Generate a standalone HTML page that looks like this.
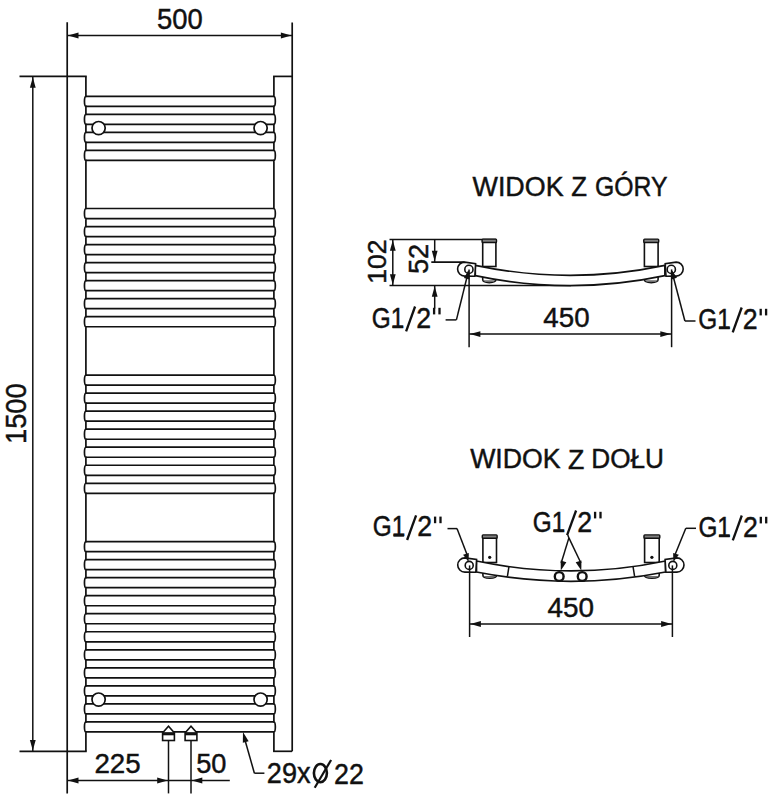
<!DOCTYPE html>
<html><head><meta charset="utf-8"><style>
html,body{margin:0;padding:0;background:#fff;}
svg{display:block;}
</style></head><body>
<svg width="774" height="800" viewBox="0 0 774 800">
<rect width="774" height="800" fill="#fff"/>
<g stroke="#111" fill="none" stroke-linecap="butt">
<line x1="67.20" y1="22.30" x2="67.20" y2="793.40" stroke-width="1.7"/>
<line x1="292.20" y1="22.50" x2="292.20" y2="751.30" stroke-width="1.7"/>
<line x1="19.50" y1="76.40" x2="86.75" y2="76.40" stroke-width="1.7"/>
<line x1="19.50" y1="751.30" x2="86.75" y2="751.30" stroke-width="1.7"/>
<line x1="273.05" y1="76.40" x2="292.20" y2="76.40" stroke-width="1.7"/>
<line x1="273.05" y1="751.30" x2="292.20" y2="751.30" stroke-width="1.7"/>
<line x1="67.20" y1="35.50" x2="292.20" y2="35.50" stroke-width="1.5"/>
<path d="M68.00,35.50 L78.50,32.60 L78.50,38.40 Z" fill="#111" stroke="none"/>
<path d="M291.40,35.50 L280.90,38.40 L280.90,32.60 Z" fill="#111" stroke="none"/>
<line x1="32.80" y1="76.40" x2="32.80" y2="751.30" stroke-width="1.5"/>
<path d="M32.80,77.20 L35.70,87.70 L29.90,87.70 Z" fill="#111" stroke="none"/>
<path d="M32.80,750.50 L29.90,740.00 L35.70,740.00 Z" fill="#111" stroke="none"/>
<path d="M85.9,76.4 L85.9,96.30 A1.5,5.03 0 0 0 85.9,106.35 L85.9,114.32 A1.5,5.03 0 0 0 85.9,124.37 L85.9,132.34 A1.5,5.03 0 0 0 85.9,142.39 L85.9,150.36 A1.5,5.03 0 0 0 85.9,160.41 L85.9,208.50 A1.5,5.03 0 0 0 85.9,218.55 L85.9,226.53 A1.5,5.03 0 0 0 85.9,236.58 L85.9,244.56 A1.5,5.03 0 0 0 85.9,254.61 L85.9,262.59 A1.5,5.03 0 0 0 85.9,272.64 L85.9,280.62 A1.5,5.03 0 0 0 85.9,290.67 L85.9,298.65 A1.5,5.03 0 0 0 85.9,308.70 L85.9,316.68 A1.5,5.03 0 0 0 85.9,326.73 L85.9,375.10 A1.5,5.03 0 0 0 85.9,385.15 L85.9,393.13 A1.5,5.03 0 0 0 85.9,403.18 L85.9,411.16 A1.5,5.03 0 0 0 85.9,421.21 L85.9,429.19 A1.5,5.03 0 0 0 85.9,439.24 L85.9,447.22 A1.5,5.03 0 0 0 85.9,457.27 L85.9,465.25 A1.5,5.03 0 0 0 85.9,475.30 L85.9,483.28 A1.5,5.03 0 0 0 85.9,493.33 L85.9,541.60 A1.5,5.03 0 0 0 85.9,551.65 L85.9,559.63 A1.5,5.03 0 0 0 85.9,569.68 L85.9,577.66 A1.5,5.03 0 0 0 85.9,587.71 L85.9,595.69 A1.5,5.03 0 0 0 85.9,605.74 L85.9,613.72 A1.5,5.03 0 0 0 85.9,623.77 L85.9,631.75 A1.5,5.03 0 0 0 85.9,641.80 L85.9,649.78 A1.5,5.03 0 0 0 85.9,659.83 L85.9,667.81 A1.5,5.03 0 0 0 85.9,677.86 L85.9,685.84 A1.5,5.03 0 0 0 85.9,695.89 L85.9,703.87 A1.5,5.03 0 0 0 85.9,713.92 L85.9,721.90 A1.5,5.03 0 0 0 85.9,731.95 L85.9,751.3" fill="none" stroke-width="1.7" />
<path d="M273.9,76.4 L273.9,96.30 A1.5,5.03 0 0 1 273.9,106.35 L273.9,114.32 A1.5,5.03 0 0 1 273.9,124.37 L273.9,132.34 A1.5,5.03 0 0 1 273.9,142.39 L273.9,150.36 A1.5,5.03 0 0 1 273.9,160.41 L273.9,208.50 A1.5,5.03 0 0 1 273.9,218.55 L273.9,226.53 A1.5,5.03 0 0 1 273.9,236.58 L273.9,244.56 A1.5,5.03 0 0 1 273.9,254.61 L273.9,262.59 A1.5,5.03 0 0 1 273.9,272.64 L273.9,280.62 A1.5,5.03 0 0 1 273.9,290.67 L273.9,298.65 A1.5,5.03 0 0 1 273.9,308.70 L273.9,316.68 A1.5,5.03 0 0 1 273.9,326.73 L273.9,375.10 A1.5,5.03 0 0 1 273.9,385.15 L273.9,393.13 A1.5,5.03 0 0 1 273.9,403.18 L273.9,411.16 A1.5,5.03 0 0 1 273.9,421.21 L273.9,429.19 A1.5,5.03 0 0 1 273.9,439.24 L273.9,447.22 A1.5,5.03 0 0 1 273.9,457.27 L273.9,465.25 A1.5,5.03 0 0 1 273.9,475.30 L273.9,483.28 A1.5,5.03 0 0 1 273.9,493.33 L273.9,541.60 A1.5,5.03 0 0 1 273.9,551.65 L273.9,559.63 A1.5,5.03 0 0 1 273.9,569.68 L273.9,577.66 A1.5,5.03 0 0 1 273.9,587.71 L273.9,595.69 A1.5,5.03 0 0 1 273.9,605.74 L273.9,613.72 A1.5,5.03 0 0 1 273.9,623.77 L273.9,631.75 A1.5,5.03 0 0 1 273.9,641.80 L273.9,649.78 A1.5,5.03 0 0 1 273.9,659.83 L273.9,667.81 A1.5,5.03 0 0 1 273.9,677.86 L273.9,685.84 A1.5,5.03 0 0 1 273.9,695.89 L273.9,703.87 A1.5,5.03 0 0 1 273.9,713.92 L273.9,721.90 A1.5,5.03 0 0 1 273.9,731.95 L273.9,751.3" fill="none" stroke-width="1.7" />
<line x1="85.90" y1="96.30" x2="273.90" y2="96.30" stroke-width="1.7"/>
<line x1="85.90" y1="106.35" x2="273.90" y2="106.35" stroke-width="1.7"/>
<line x1="85.90" y1="114.32" x2="273.90" y2="114.32" stroke-width="1.7"/>
<line x1="85.90" y1="124.37" x2="273.90" y2="124.37" stroke-width="1.7"/>
<line x1="85.90" y1="132.34" x2="273.90" y2="132.34" stroke-width="1.7"/>
<line x1="85.90" y1="142.39" x2="273.90" y2="142.39" stroke-width="1.7"/>
<line x1="85.90" y1="150.36" x2="273.90" y2="150.36" stroke-width="1.7"/>
<line x1="85.90" y1="160.41" x2="273.90" y2="160.41" stroke-width="1.7"/>
<line x1="85.90" y1="208.50" x2="273.90" y2="208.50" stroke-width="1.7"/>
<line x1="85.90" y1="218.55" x2="273.90" y2="218.55" stroke-width="1.7"/>
<line x1="85.90" y1="226.53" x2="273.90" y2="226.53" stroke-width="1.7"/>
<line x1="85.90" y1="236.58" x2="273.90" y2="236.58" stroke-width="1.7"/>
<line x1="85.90" y1="244.56" x2="273.90" y2="244.56" stroke-width="1.7"/>
<line x1="85.90" y1="254.61" x2="273.90" y2="254.61" stroke-width="1.7"/>
<line x1="85.90" y1="262.59" x2="273.90" y2="262.59" stroke-width="1.7"/>
<line x1="85.90" y1="272.64" x2="273.90" y2="272.64" stroke-width="1.7"/>
<line x1="85.90" y1="280.62" x2="273.90" y2="280.62" stroke-width="1.7"/>
<line x1="85.90" y1="290.67" x2="273.90" y2="290.67" stroke-width="1.7"/>
<line x1="85.90" y1="298.65" x2="273.90" y2="298.65" stroke-width="1.7"/>
<line x1="85.90" y1="308.70" x2="273.90" y2="308.70" stroke-width="1.7"/>
<line x1="85.90" y1="316.68" x2="273.90" y2="316.68" stroke-width="1.7"/>
<line x1="85.90" y1="326.73" x2="273.90" y2="326.73" stroke-width="1.7"/>
<line x1="85.90" y1="375.10" x2="273.90" y2="375.10" stroke-width="1.7"/>
<line x1="85.90" y1="385.15" x2="273.90" y2="385.15" stroke-width="1.7"/>
<line x1="85.90" y1="393.13" x2="273.90" y2="393.13" stroke-width="1.7"/>
<line x1="85.90" y1="403.18" x2="273.90" y2="403.18" stroke-width="1.7"/>
<line x1="85.90" y1="411.16" x2="273.90" y2="411.16" stroke-width="1.7"/>
<line x1="85.90" y1="421.21" x2="273.90" y2="421.21" stroke-width="1.7"/>
<line x1="85.90" y1="429.19" x2="273.90" y2="429.19" stroke-width="1.7"/>
<line x1="85.90" y1="439.24" x2="273.90" y2="439.24" stroke-width="1.7"/>
<line x1="85.90" y1="447.22" x2="273.90" y2="447.22" stroke-width="1.7"/>
<line x1="85.90" y1="457.27" x2="273.90" y2="457.27" stroke-width="1.7"/>
<line x1="85.90" y1="465.25" x2="273.90" y2="465.25" stroke-width="1.7"/>
<line x1="85.90" y1="475.30" x2="273.90" y2="475.30" stroke-width="1.7"/>
<line x1="85.90" y1="483.28" x2="273.90" y2="483.28" stroke-width="1.7"/>
<line x1="85.90" y1="493.33" x2="273.90" y2="493.33" stroke-width="1.7"/>
<line x1="85.90" y1="541.60" x2="273.90" y2="541.60" stroke-width="1.7"/>
<line x1="85.90" y1="551.65" x2="273.90" y2="551.65" stroke-width="1.7"/>
<line x1="85.90" y1="559.63" x2="273.90" y2="559.63" stroke-width="1.7"/>
<line x1="85.90" y1="569.68" x2="273.90" y2="569.68" stroke-width="1.7"/>
<line x1="85.90" y1="577.66" x2="273.90" y2="577.66" stroke-width="1.7"/>
<line x1="85.90" y1="587.71" x2="273.90" y2="587.71" stroke-width="1.7"/>
<line x1="85.90" y1="595.69" x2="273.90" y2="595.69" stroke-width="1.7"/>
<line x1="85.90" y1="605.74" x2="273.90" y2="605.74" stroke-width="1.7"/>
<line x1="85.90" y1="613.72" x2="273.90" y2="613.72" stroke-width="1.7"/>
<line x1="85.90" y1="623.77" x2="273.90" y2="623.77" stroke-width="1.7"/>
<line x1="85.90" y1="631.75" x2="273.90" y2="631.75" stroke-width="1.7"/>
<line x1="85.90" y1="641.80" x2="273.90" y2="641.80" stroke-width="1.7"/>
<line x1="85.90" y1="649.78" x2="273.90" y2="649.78" stroke-width="1.7"/>
<line x1="85.90" y1="659.83" x2="273.90" y2="659.83" stroke-width="1.7"/>
<line x1="85.90" y1="667.81" x2="273.90" y2="667.81" stroke-width="1.7"/>
<line x1="85.90" y1="677.86" x2="273.90" y2="677.86" stroke-width="1.7"/>
<line x1="85.90" y1="685.84" x2="273.90" y2="685.84" stroke-width="1.7"/>
<line x1="85.90" y1="695.89" x2="273.90" y2="695.89" stroke-width="1.7"/>
<line x1="85.90" y1="703.87" x2="273.90" y2="703.87" stroke-width="1.7"/>
<line x1="85.90" y1="713.92" x2="273.90" y2="713.92" stroke-width="1.7"/>
<line x1="85.90" y1="721.90" x2="273.90" y2="721.90" stroke-width="1.7"/>
<line x1="85.90" y1="731.95" x2="273.90" y2="731.95" stroke-width="1.7"/>
<circle cx="98.60" cy="128.10" r="6.60" fill="#fff" stroke-width="1.7"/>
<circle cx="260.60" cy="128.10" r="6.60" fill="#fff" stroke-width="1.7"/>
<circle cx="98.60" cy="699.60" r="6.60" fill="#fff" stroke-width="1.7"/>
<circle cx="260.60" cy="699.60" r="6.60" fill="#fff" stroke-width="1.7"/>
<line x1="168.50" y1="740.50" x2="168.50" y2="793.40" stroke-width="1.5"/>
<path d="M162.70,732.8 L168.50,726.2 L174.30,732.8" fill="#fff" stroke-width="1.6"/>
<rect x="162.60" y="733" width="11.8" height="7.5" fill="#fff" stroke-width="1.6"/>
<line x1="162.60" y1="734.20" x2="174.40" y2="734.20" stroke-width="2.2"/>
<line x1="191.00" y1="740.50" x2="191.00" y2="793.40" stroke-width="1.5"/>
<path d="M185.20,732.8 L191.00,726.2 L196.80,732.8" fill="#fff" stroke-width="1.6"/>
<rect x="185.10" y="733" width="11.8" height="7.5" fill="#fff" stroke-width="1.6"/>
<line x1="185.10" y1="734.20" x2="196.90" y2="734.20" stroke-width="2.2"/>
<line x1="67.20" y1="780.50" x2="229.80" y2="780.50" stroke-width="1.5"/>
<path d="M68.00,780.50 L78.50,777.60 L78.50,783.40 Z" fill="#111" stroke="none"/>
<path d="M167.70,780.50 L157.20,783.40 L157.20,777.60 Z" fill="#111" stroke="none"/>
<path d="M191.80,780.50 L202.30,777.60 L202.30,783.40 Z" fill="#111" stroke="none"/>
<path d="M243.00,731.90 L248.63,741.26 L242.84,742.82 Z" fill="#111" stroke="none"/>
<line x1="243.90" y1="736.30" x2="254.40" y2="773.20" stroke-width="1.5"/>
<line x1="254.40" y1="773.20" x2="264.40" y2="773.20" stroke-width="1.5"/>
<text fill="#111" stroke="#111" font-family="Liberation Sans, sans-serif" transform="translate(157.10,29.41) scale(0.2742,0.2887)" font-size="100" stroke-width="1.56">500</text>
<text fill="#111" stroke="#111" font-family="Liberation Sans, sans-serif" transform="translate(25.96,444.09) rotate(-90) scale(0.2738,0.2908)" font-size="100" stroke-width="1.55">1500</text>
<text fill="#111" stroke="#111" font-family="Liberation Sans, sans-serif" transform="translate(94.41,773.22) scale(0.2772,0.2803)" font-size="100" stroke-width="1.61">225</text>
<text fill="#111" stroke="#111" font-family="Liberation Sans, sans-serif" transform="translate(196.21,773.02) scale(0.2718,0.2817)" font-size="100" stroke-width="1.60">50</text>
<text fill="#111" stroke="#111" font-family="Liberation Sans, sans-serif" transform="translate(266.85,783.41) scale(0.2710,0.2944)" font-size="100" stroke-width="1.53">29x</text>
<text fill="#111" stroke="#111" font-family="Liberation Sans, sans-serif" transform="translate(334.06,783.50) scale(0.2683,0.2957)" font-size="100" stroke-width="1.52">22</text>
<ellipse cx="320.4" cy="773.1" rx="6.5" ry="9.1" fill="none" stroke-width="2.6"/>
<line x1="314.70" y1="787.70" x2="331.10" y2="760.00" stroke-width="2.2"/>
<text fill="#111" stroke="#111" font-family="Liberation Sans, sans-serif" transform="translate(472.53,195.53) scale(0.2688,0.2704)" font-size="100" stroke-width="1.66">WIDOK</text>
<text fill="#111" stroke="#111" font-family="Liberation Sans, sans-serif" transform="translate(571.33,195.80) scale(0.2582,0.2783)" font-size="100" stroke-width="1.62">Z</text>
<text fill="#111" stroke="#111" font-family="Liberation Sans, sans-serif" transform="translate(594.96,195.53) scale(0.2481,0.2704)" font-size="100" stroke-width="1.66">GÓRY</text>
<line x1="389.50" y1="239.50" x2="496.30" y2="239.50" stroke-width="1.7"/>
<line x1="389.50" y1="285.50" x2="571.00" y2="285.50" stroke-width="1.7"/>
<line x1="431.30" y1="262.10" x2="464.50" y2="262.10" stroke-width="1.7"/>
<line x1="392.80" y1="239.50" x2="392.80" y2="285.50" stroke-width="1.5"/>
<path d="M392.80,240.30 L395.70,250.80 L389.90,250.80 Z" fill="#111" stroke="none"/>
<path d="M392.80,284.70 L389.90,274.20 L395.70,274.20 Z" fill="#111" stroke="none"/>
<text fill="#111" stroke="#111" font-family="Liberation Sans, sans-serif" transform="translate(386.13,283.82) rotate(-90) scale(0.2656,0.2662)" font-size="100" stroke-width="1.69">102</text>
<line x1="434.70" y1="239.50" x2="434.70" y2="262.10" stroke-width="1.5"/>
<path d="M434.70,261.30 L431.80,250.80 L437.60,250.80 Z" fill="#111" stroke="none"/>
<line x1="434.70" y1="285.50" x2="434.70" y2="308.50" stroke-width="1.5"/>
<path d="M434.70,286.30 L437.60,296.80 L431.80,296.80 Z" fill="#111" stroke="none"/>
<text fill="#111" stroke="#111" font-family="Liberation Sans, sans-serif" transform="translate(427.72,274.09) rotate(-90) scale(0.2725,0.2803)" font-size="100" stroke-width="1.61">52</text>
<rect x="482.7" y="240.7" width="13.20" height="25.80" fill="#fff" stroke-width="1.6"/>
<rect x="482.10" y="239.10" width="14.40" height="3.4" rx="0.8" fill="#808080" stroke-width="1.4"/>
<path d="M482.7,275 L482.7,279.6 C482.7,283.6 495.9,283.6 495.9,279.6 L495.9,275" fill="#fff" stroke-width="1.6"/>
<path d="M483.20,280.3 L495.40,280.3 C494.90,282.8 483.70,282.8 483.20,280.3 Z" fill="#707070" stroke="none"/>
<rect x="644.4" y="240.7" width="13.70" height="25.80" fill="#fff" stroke-width="1.6"/>
<rect x="643.80" y="239.10" width="14.90" height="3.4" rx="0.8" fill="#808080" stroke-width="1.4"/>
<path d="M644.4,275 L644.4,279.6 C644.4,283.6 658.1,283.6 658.1,279.6 L658.1,275" fill="#fff" stroke-width="1.6"/>
<path d="M644.90,280.3 L657.60,280.3 C657.10,282.8 645.40,282.8 644.90,280.3 Z" fill="#707070" stroke="none"/>
<path d="M475.3,265.3 Q570.1,285.30 664.9,265.3 L664.9,275.6 Q570.1,295.60 475.3,275.6 Z" fill="#fff" stroke-width="1.7" />
<path d="M464.60,262.10 L475.60,263.70 L474.80,276.30 L464.60,276.10 A7.0,7.0 0 0 1 464.60,262.10 Z" fill="#fff" stroke-width="1.6" />
<path d="M676.20,262.10 L665.20,263.70 L666.00,276.30 L676.20,276.10 A7.0,7.0 0 0 0 676.20,262.10 Z" fill="#fff" stroke-width="1.6" />
<circle cx="468.90" cy="269.40" r="4.10" fill="#fff" stroke-width="1.6"/>
<circle cx="671.30" cy="269.40" r="4.10" fill="#fff" stroke-width="1.6"/>
<line x1="469.10" y1="269.40" x2="469.10" y2="347.20" stroke-width="1.5"/>
<line x1="671.60" y1="269.40" x2="671.60" y2="347.20" stroke-width="1.5"/>
<line x1="469.10" y1="334.10" x2="671.60" y2="334.10" stroke-width="1.5"/>
<path d="M469.90,334.10 L480.40,331.20 L480.40,337.00 Z" fill="#111" stroke="none"/>
<path d="M670.80,334.10 L660.30,337.00 L660.30,331.20 Z" fill="#111" stroke="none"/>
<text fill="#111" stroke="#111" font-family="Liberation Sans, sans-serif" transform="translate(543.35,327.22) scale(0.2770,0.2803)" font-size="100" stroke-width="1.61">450</text>
<line x1="445.60" y1="319.90" x2="456.40" y2="319.90" stroke-width="1.5"/>
<line x1="456.40" y1="319.90" x2="468.40" y2="271.50" stroke-width="1.5"/>
<path d="M468.80,270.00 L469.52,279.43 L463.88,278.07 Z" fill="#111" stroke="none"/>
<text fill="#111" stroke="#111" font-family="Liberation Sans, sans-serif" transform="translate(371.68,327.71) scale(0.2439,0.2901)" font-size="100" stroke-width="1.55">G1</text>
<text fill="#111" stroke="#111" font-family="Liberation Sans, sans-serif" transform="translate(416.26,327.80) scale(0.2674,0.2914)" font-size="100" stroke-width="1.54">2</text>
<line x1="406.10" y1="331.40" x2="415.10" y2="306.50" stroke-width="2.3"/>
<rect x="392.50" y="325.70" width="10.4" height="2.3" fill="#111" stroke="none"/>
<rect x="432.95" y="307.80" width="2.3" height="6.6" fill="#111" stroke="none"/>
<rect x="438.35" y="307.80" width="2.3" height="6.6" fill="#111" stroke="none"/>
<line x1="695.50" y1="321.00" x2="684.90" y2="321.00" stroke-width="1.5"/>
<line x1="684.90" y1="321.00" x2="671.90" y2="271.50" stroke-width="1.5"/>
<path d="M671.60,270.00 L676.96,277.79 L671.41,279.45 Z" fill="#111" stroke="none"/>
<text fill="#111" stroke="#111" font-family="Liberation Sans, sans-serif" transform="translate(698.28,328.71) scale(0.2439,0.2901)" font-size="100" stroke-width="1.55">G1</text>
<text fill="#111" stroke="#111" font-family="Liberation Sans, sans-serif" transform="translate(742.86,328.80) scale(0.2674,0.2914)" font-size="100" stroke-width="1.54">2</text>
<line x1="732.70" y1="332.40" x2="741.70" y2="307.50" stroke-width="2.3"/>
<rect x="719.10" y="326.70" width="10.4" height="2.3" fill="#111" stroke="none"/>
<rect x="759.55" y="308.80" width="2.3" height="6.6" fill="#111" stroke="none"/>
<rect x="764.95" y="308.80" width="2.3" height="6.6" fill="#111" stroke="none"/>
<text fill="#111" stroke="#111" font-family="Liberation Sans, sans-serif" transform="translate(470.13,468.33) scale(0.2673,0.2718)" font-size="100" stroke-width="1.66">WIDOK</text>
<text fill="#111" stroke="#111" font-family="Liberation Sans, sans-serif" transform="translate(568.00,468.60) scale(0.2673,0.2797)" font-size="100" stroke-width="1.61">Z</text>
<text fill="#111" stroke="#111" font-family="Liberation Sans, sans-serif" transform="translate(591.31,468.33) scale(0.2618,0.2718)" font-size="100" stroke-width="1.66">DOŁU</text>
<rect x="482.9" y="536.5" width="13.60" height="26.00" fill="#fff" stroke-width="1.6"/>
<rect x="482.30" y="534.90" width="14.80" height="3.4" rx="0.8" fill="#808080" stroke-width="1.4"/>
<circle cx="489.70" cy="557.30" r="1.60" fill="#111" stroke-width="0"/>
<path d="M482.9,571 L482.9,575.2 C482.9,579.2 496.5,579.2 496.5,575.2 L496.5,571" fill="#fff" stroke-width="1.6"/>
<path d="M483.40,575.9 L496.00,575.9 C495.50,578.4 483.90,578.4 483.40,575.9 Z" fill="#707070" stroke="none"/>
<rect x="644.6" y="536.5" width="14.60" height="26.00" fill="#fff" stroke-width="1.6"/>
<rect x="644.00" y="534.90" width="15.80" height="3.4" rx="0.8" fill="#808080" stroke-width="1.4"/>
<circle cx="651.90" cy="557.30" r="1.60" fill="#111" stroke-width="0"/>
<path d="M644.6,571 L644.6,575.2 C644.6,579.2 659.2,579.2 659.2,575.2 L659.2,571" fill="#fff" stroke-width="1.6"/>
<path d="M645.10,575.9 L658.70,575.9 C658.20,578.4 645.60,578.4 645.10,575.9 Z" fill="#707070" stroke="none"/>
<path d="M476.5,561.0 Q571.0,580.80 665.5,561.0 L665.5,572.0 Q571.0,590.60 476.5,572.0 Z" fill="#fff" stroke-width="1.7" />
<line x1="509.00" y1="566.30" x2="507.40" y2="576.40" stroke-width="1.5"/>
<line x1="633.00" y1="566.30" x2="634.60" y2="576.40" stroke-width="1.5"/>
<path d="M464.80,557.90 L476.60,559.50 L475.80,572.30 L464.80,572.10 A7.1,7.1 0 0 1 464.80,557.90 Z" fill="#fff" stroke-width="1.6" />
<path d="M676.90,557.90 L665.10,559.50 L665.90,572.30 L676.90,572.10 A7.1,7.1 0 0 0 676.90,557.90 Z" fill="#fff" stroke-width="1.6" />
<circle cx="469.20" cy="565.40" r="4.00" fill="#fff" stroke-width="1.6"/>
<circle cx="672.80" cy="565.40" r="4.00" fill="#fff" stroke-width="1.6"/>
<circle cx="559.20" cy="576.50" r="4.40" fill="#fff" stroke-width="2.4"/>
<circle cx="582.20" cy="576.50" r="4.40" fill="#fff" stroke-width="2.4"/>
<line x1="469.60" y1="565.40" x2="469.60" y2="637.00" stroke-width="1.5"/>
<line x1="672.40" y1="565.40" x2="672.40" y2="637.00" stroke-width="1.5"/>
<line x1="469.60" y1="624.00" x2="672.40" y2="624.00" stroke-width="1.5"/>
<path d="M470.40,624.00 L480.90,621.10 L480.90,626.90 Z" fill="#111" stroke="none"/>
<path d="M671.60,624.00 L661.10,626.90 L661.10,621.10 Z" fill="#111" stroke="none"/>
<text fill="#111" stroke="#111" font-family="Liberation Sans, sans-serif" transform="translate(547.54,617.22) scale(0.2789,0.2803)" font-size="100" stroke-width="1.61">450</text>
<text fill="#111" stroke="#111" font-family="Liberation Sans, sans-serif" transform="translate(372.68,536.31) scale(0.2439,0.2873)" font-size="100" stroke-width="1.57">G1</text>
<text fill="#111" stroke="#111" font-family="Liberation Sans, sans-serif" transform="translate(417.26,536.40) scale(0.2674,0.2886)" font-size="100" stroke-width="1.56">2</text>
<line x1="407.10" y1="540.00" x2="416.10" y2="515.30" stroke-width="2.3"/>
<rect x="393.50" y="534.30" width="10.4" height="2.3" fill="#111" stroke="none"/>
<rect x="433.95" y="516.60" width="2.3" height="6.6" fill="#111" stroke="none"/>
<rect x="439.35" y="516.60" width="2.3" height="6.6" fill="#111" stroke="none"/>
<line x1="447.50" y1="528.60" x2="457.00" y2="528.60" stroke-width="1.5"/>
<line x1="457.00" y1="528.60" x2="467.60" y2="556.00" stroke-width="1.5"/>
<path d="M468.60,562.00 L463.09,554.87 L468.79,552.99 Z" fill="#111" stroke="none"/>
<text fill="#111" stroke="#111" font-family="Liberation Sans, sans-serif" transform="translate(532.68,531.51) scale(0.2439,0.2873)" font-size="100" stroke-width="1.57">G1</text>
<text fill="#111" stroke="#111" font-family="Liberation Sans, sans-serif" transform="translate(577.26,531.60) scale(0.2674,0.2886)" font-size="100" stroke-width="1.56">2</text>
<line x1="567.10" y1="535.20" x2="576.10" y2="510.50" stroke-width="2.3"/>
<rect x="553.50" y="529.50" width="10.4" height="2.3" fill="#111" stroke="none"/>
<rect x="593.95" y="511.80" width="2.3" height="6.6" fill="#111" stroke="none"/>
<rect x="599.35" y="511.80" width="2.3" height="6.6" fill="#111" stroke="none"/>
<line x1="568.90" y1="537.90" x2="561.20" y2="563.00" stroke-width="1.5"/>
<line x1="568.90" y1="537.90" x2="580.90" y2="563.00" stroke-width="1.5"/>
<path d="M560.80,570.50 L560.66,560.54 L566.40,562.26 Z" fill="#111" stroke="none"/>
<path d="M581.30,570.50 L575.70,562.26 L581.44,560.54 Z" fill="#111" stroke="none"/>
<line x1="567.80" y1="535.00" x2="568.90" y2="537.90" stroke-width="1.5"/>
<text fill="#111" stroke="#111" font-family="Liberation Sans, sans-serif" transform="translate(698.38,536.71) scale(0.2439,0.2901)" font-size="100" stroke-width="1.55">G1</text>
<text fill="#111" stroke="#111" font-family="Liberation Sans, sans-serif" transform="translate(742.96,536.80) scale(0.2674,0.2914)" font-size="100" stroke-width="1.54">2</text>
<line x1="732.80" y1="540.40" x2="741.80" y2="515.50" stroke-width="2.3"/>
<rect x="719.20" y="534.70" width="10.4" height="2.3" fill="#111" stroke="none"/>
<rect x="759.65" y="516.80" width="2.3" height="6.6" fill="#111" stroke="none"/>
<rect x="765.05" y="516.80" width="2.3" height="6.6" fill="#111" stroke="none"/>
<line x1="685.80" y1="528.30" x2="696.00" y2="528.30" stroke-width="1.5"/>
<line x1="685.80" y1="528.30" x2="674.50" y2="556.00" stroke-width="1.5"/>
<path d="M673.40,562.00 L673.13,552.99 L678.85,554.82 Z" fill="#111" stroke="none"/>
</g>
</svg></body></html>
